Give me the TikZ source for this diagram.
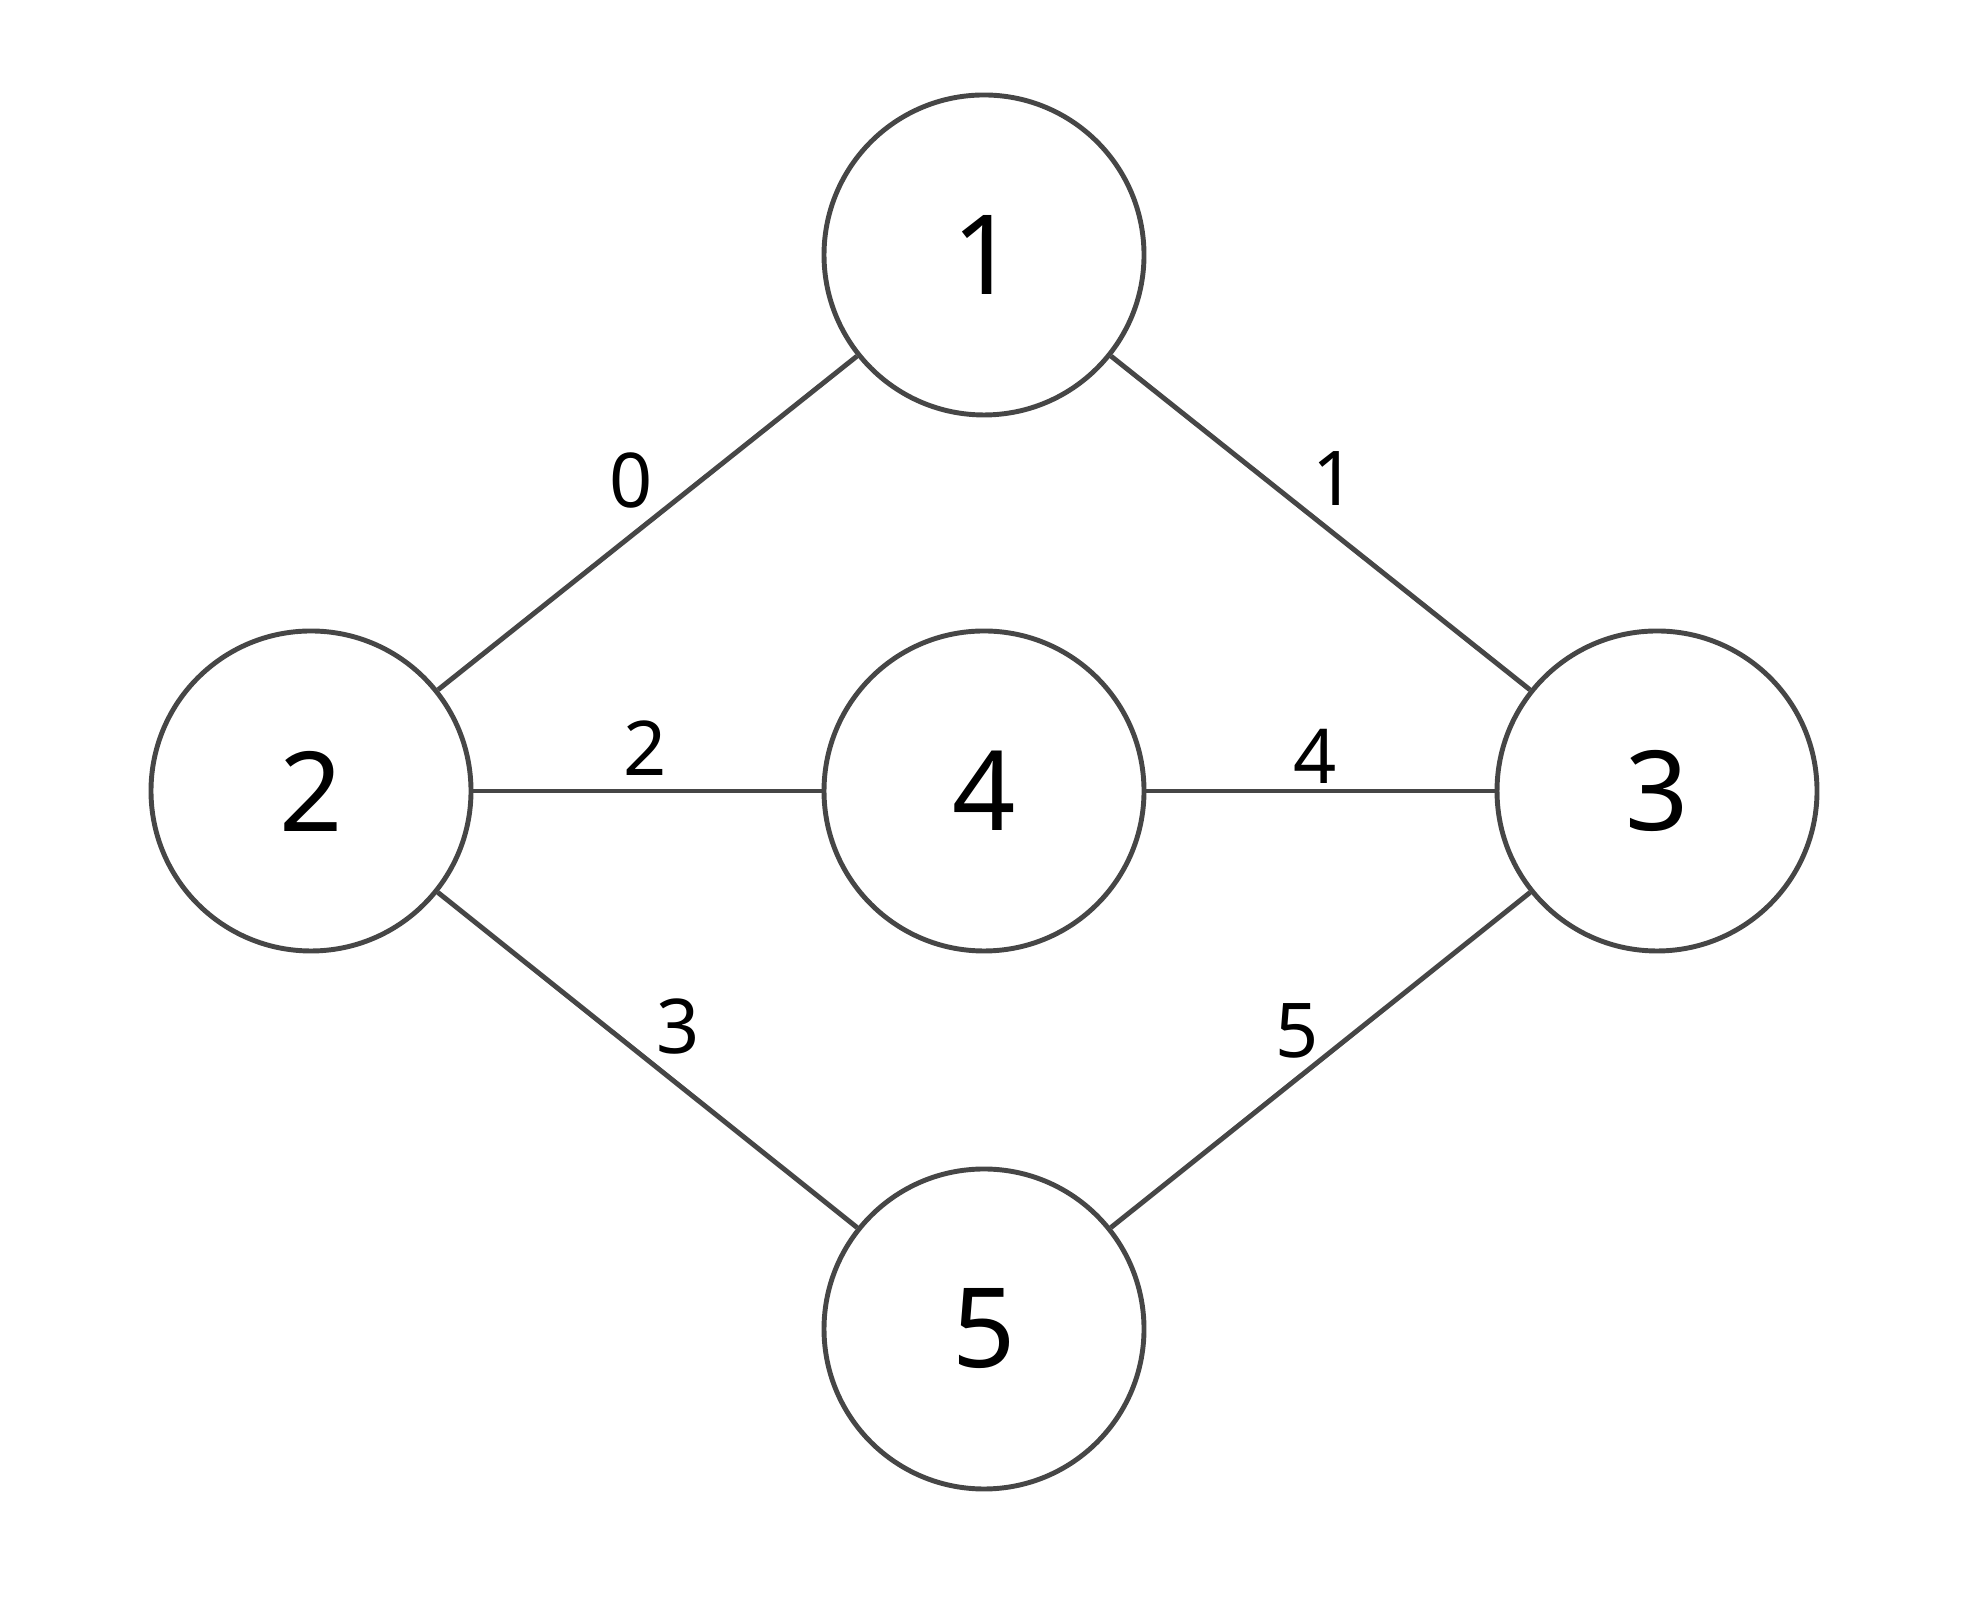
\documentclass[tikz,border=0pt]{standalone}
\usepackage{fontspec}
\setmainfont{Noto Sans}
\usepackage{tikz}
\newcommand{\vertsize}{3.2cm}
\definecolor{edgeGray}{RGB}{70,70,70}
\usetikzlibrary{positioning}
\tikzset{
  vert/.style={draw=edgeGray,line width=1.4pt,shape=circle,minimum size=\vertsize,inner sep=0,font=\fontsize{31.5}{36}\selectfont},
  line/.style={draw=edgeGray,line width=1.4pt},
  wlabel/.style={inner sep=0,font=\fontsize{21.5}{25}\selectfont},
}
\begin{document}
\begin{tikzpicture}
      \useasboundingbox (0,0) rectangle (19.64,16);
      \node (v1) [vert] at (9.84,13.45) {1};
      \node (v2) [vert] at (3.11,8.09) {2};
      \node (v4) [vert] at (9.84,8.09) {4};
      \node (v3) [vert] at (16.57,8.09) {3};
      \node (v5) [vert] at (9.84,2.71) {5};
      \path [line] (v2) -- (v1) node[wlabel,midway,xshift=-0.165cm,yshift=0.42cm]{0};
      \path [line] (v1) -- (v3) node[wlabel,midway,xshift=0.135cm,yshift=0.44cm]{1};
      \path [line] (v2) -- (v4) node[wlabel,midway,xshift=-0.025cm,yshift=0.43cm]{2};
      \path [line] (v4) -- (v3) node[wlabel,midway,xshift=-0.055cm,yshift=0.35cm]{4};
      \path [line] (v2) -- (v5) node[wlabel,midway,xshift=0.305cm,yshift=0.33cm]{3};
      \path [line] (v5) -- (v3) node[wlabel,midway,xshift=-0.235cm,yshift=0.29cm]{5};
    \end{tikzpicture}
\end{document}
